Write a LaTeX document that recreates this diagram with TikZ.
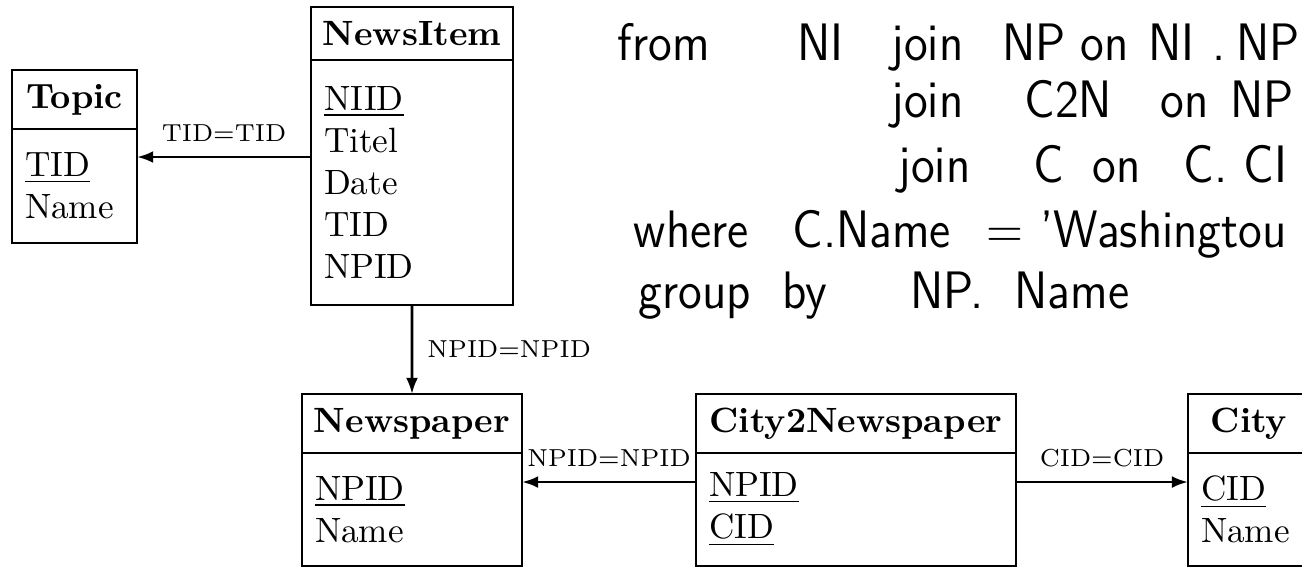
\documentclass[tikz,border=0pt]{standalone}
\usepackage{graphicx}
\usetikzlibrary{positioning,arrows.meta}

\tikzset{
  relhead/.style={draw, thick, font=\bfseries, inner sep=0pt, outer sep=0pt, anchor=north west},
  relattr/.style={draw, thick, align=left, inner xsep=3.7pt, inner ysep=0pt, outer sep=0pt},
  fk/.style={thick, -{Latex[length=4.6pt,width=3.4pt]}},
  fklabel/.style={font=\scriptsize, inner sep=0pt},
  hand/.style={anchor=base west, inner sep=0pt, font=\fontsize{15}{18}\selectfont\sffamily}
}
\newcommand{\handword}[1]{\scalebox{0.92}[1]{#1}}

\begin{document}
\begin{tikzpicture}[x=0.2846pt,y=-0.2846pt]
\useasboundingbox (0,0) rectangle (1302,569);
\clip (0,0) rectangle (1302,569);

% relations
\node[relhead, minimum width=35.58pt, minimum height=16.79pt] (topic) at (12,70) {Topic};
\node[relattr, below=0pt of topic, text width=28.18pt, minimum height=32.44pt] (topic-attr) {\underline{TID}\\Name};

\node[relhead, minimum width=57.49pt, minimum height=15.08pt] (newsitem) at (311,7) {NewsItem};
\node[relattr, below=0pt of newsitem, text width=50.09pt, minimum height=69.73pt] (newsitem-attr) {\underline{NIID}\\Titel\\Date\\TID\\NPID};

\node[relhead, minimum width=62.61pt, minimum height=16.79pt] (newspaper) at (302,394) {Newspaper};
\node[relattr, below=0pt of newspaper, text width=55.21pt, minimum height=32.16pt] (newspaper-attr) {\underline{NPID}\\Name};

\node[relhead, minimum width=91.07pt, minimum height=16.79pt] (c2n) at (696,394) {City2Newspaper};
\node[relattr, below=0pt of c2n, text width=83.67pt, minimum height=32.16pt] (c2n-attr) {\underline{NPID}\\\underline{CID}};

\node[relhead, minimum width=34.72pt, minimum height=16.79pt] (city) at (1188,394) {City};
\node[relattr, below=0pt of city, text width=27.32pt, minimum height=32.16pt] (city-attr) {\underline{CID}\\Name};

% foreign keys
\coordinate (tidrow) at (0,157);
\coordinate (keyrow) at (0,482);
\draw[fk] (newsitem-attr.west |- tidrow) -- node[fklabel, above=4pt] {TID=TID} (topic-attr.east |- tidrow);
\draw[fk] (newsitem-attr.south) -- node[fklabel, right=4pt] {NPID=NPID} (newspaper.north);
\draw[fk] (c2n-attr.west |- keyrow) -- node[fklabel, above=4pt] {NPID=NPID} (newspaper-attr.east |- keyrow);
\draw[fk] (c2n-attr.east |- keyrow) -- node[fklabel, above=4pt] {CID=CID} (city-attr.west |- keyrow);

% handwritten query
\foreach \x/\w [count=\i] in {617/from,797/NI,891/join,1002/NP,1080/on,1148/NI,1212/.,1236/NPI}
  \node[hand] (qa\i) at (\x,60) {\handword{\w}};
\foreach \x/\w [count=\i] in {891/join,1024/C2N,1160/on,1230/NP}
  \node[hand] (qb\i) at (\x,117) {\handword{\w}};
\foreach \x/\w [count=\i] in {898/join,1033/C,1092/on,1183/C.,1243/CI}
  \node[hand] (qc\i) at (\x,182) {\handword{\w}};
\foreach \x/\w [count=\i] in {633/where,792/C.Name,986/=,1040/'Washingtou}
  \node[hand] (qd\i) at (\x,247) {\handword{\w}};
\foreach \x/\w [count=\i] in {638/group,782/by,910/NP.,1014/Name}
  \node[hand] (qe\i) at (\x,308) {\handword{\w}};

\end{tikzpicture}
\end{document}
